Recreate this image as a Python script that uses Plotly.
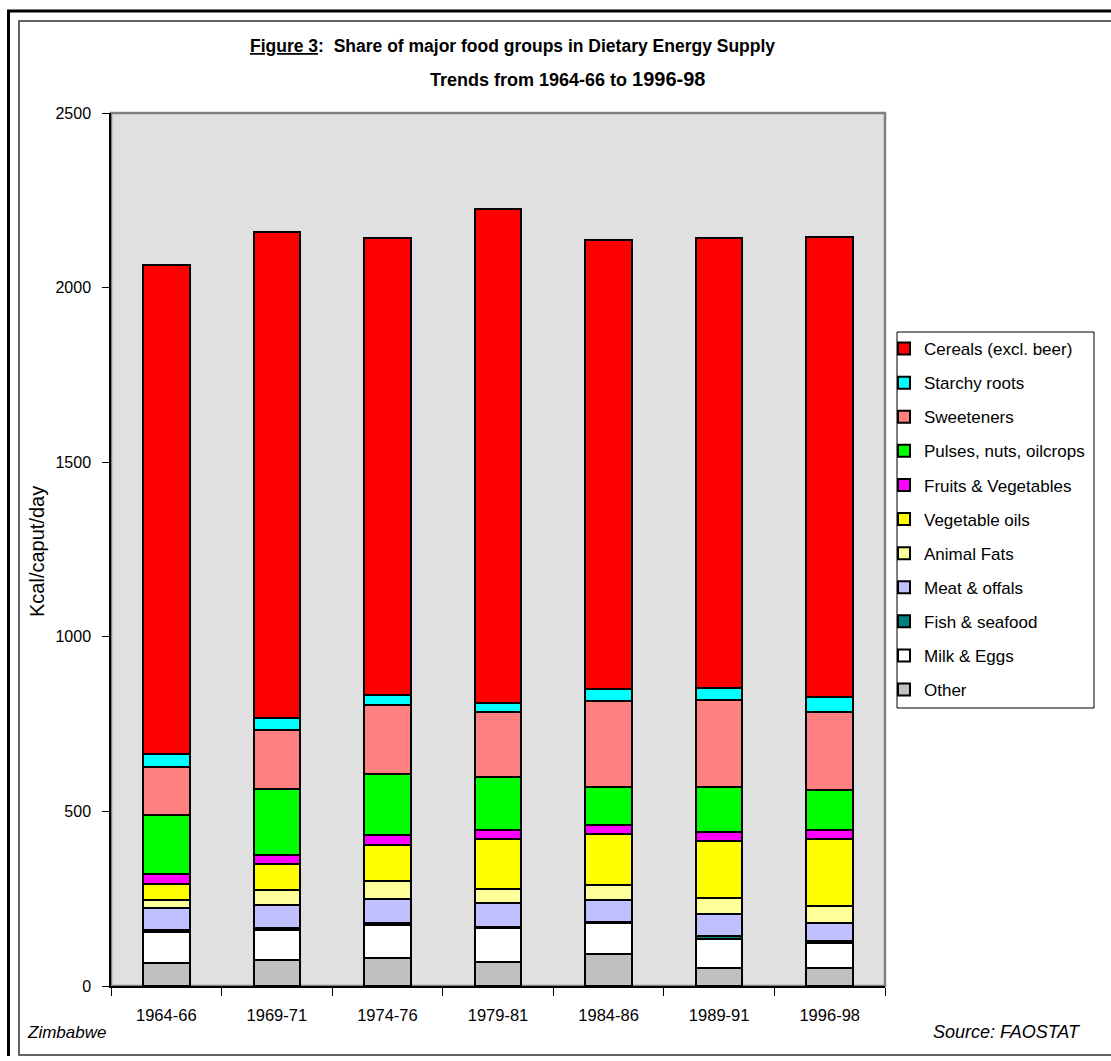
import plotly.graph_objects as go

# Dietary energy supply by food group, Zimbabwe (kcal/caput/day)
categories = ["1964-66", "1969-71", "1974-76", "1979-81", "1984-86", "1989-91", "1996-98"]

other = [67, 74, 79, 69, 91, 52, 52]
milk_eggs = [88, 86, 97, 96, 88, 84, 70]
fish_seafood = [5, 5, 3, 4, 3, 7, 8]
meat_offals = [62, 68, 71, 69, 64, 62, 50]
animal_fats = [24, 41, 50, 41, 43, 48, 50]
vegetable_oils = [45, 74, 105, 141, 145, 162, 191]
fruits_vegetables = [29, 26, 26, 28, 28, 26, 26]
pulses_nuts_oilcrops = [169, 191, 175, 150, 109, 130, 114]
sweeteners = [138, 169, 199, 188, 246, 249, 224]
starchy_roots = [36, 34, 28, 24, 34, 33, 43]
cereals = [1403, 1392, 1310, 1416, 1286, 1290, 1316]

y_ticks = [0, 500, 1000, 1500, 2000, 2500]

# stacked from the bottom up
series = [
    ("Other", other, "#C0C0C0"),
    ("Milk & Eggs", milk_eggs, "#FFFFFF"),
    ("Fish & seafood", fish_seafood, "#008080"),
    ("Meat & offals", meat_offals, "#C0C0FF"),
    ("Animal Fats", animal_fats, "#FFFF99"),
    ("Vegetable oils", vegetable_oils, "#FFFF00"),
    ("Fruits & Vegetables", fruits_vegetables, "#FF00FF"),
    ("Pulses, nuts, oilcrops", pulses_nuts_oilcrops, "#00FF00"),
    ("Sweeteners", sweeteners, "#FF8080"),
    ("Starchy roots", starchy_roots, "#00FFFF"),
    ("Cereals (excl. beer)", cereals, "#FF0000"),
]

W, H = 1111, 1061
PL, PR, PT, PB = 111, 885, 113, 986  # plot area edges in pixels


def px_x(px):
    return (px - PL) / (PR - PL)


def px_y(py):
    return (PB - py) / (PB - PT)


FONT = "Arial, Liberation Sans, sans-serif"

fig = go.Figure()
n = len(series)
for i, (name, vals, color) in enumerate(series):
    fig.add_trace(go.Bar(
        name=name, x=categories, y=vals, legendgroup=name,
        legendrank=n - i,  # top of the stack listed first
        marker=dict(color=color, line=dict(color="black", width=2)),
    ))

fig.update_layout(
    width=W, height=H,
    margin=dict(l=PL, r=W - PR, t=PT, b=H - PB),
    barmode="stack", bargap=0.58,
    paper_bgcolor="white", plot_bgcolor="#E0E0E0",
    font=dict(family=FONT, color="black", size=16),
    showlegend=True,
    legend=dict(
        traceorder="grouped", tracegroupgap=9,
        x=px_x(884), xanchor="left", y=px_y(331), yanchor="top",
        font=dict(size=17, family=FONT), bgcolor="rgba(0,0,0,0)",
        borderwidth=0, itemwidth=30,
    ),
)

fig.update_yaxes(
    range=[0, 2500], tickvals=y_ticks, showgrid=False, zeroline=False,
    ticks="outside", ticklen=7, tickcolor="black", tickwidth=1,
    showline=True, linecolor="black", linewidth=1.5,
    tickfont=dict(size=16), ticklabelstandoff=8,
)
fig.update_xaxes(
    tickson="boundaries", ticks="outside", ticklen=8, tickcolor="black",
    tickwidth=1, showline=True, linecolor="black", linewidth=1.5,
    showgrid=False, tickfont=dict(size=16.5), ticklabelstandoff=13,
)

shapes = [
    # grey plot-area border
    dict(type="rect", xref="x domain", yref="y domain", x0=0, x1=1, y0=0, y1=1,
         line=dict(color="#808080", width=2.5), layer="below"),
    # legend box
    dict(type="rect", xref="paper", yref="paper",
         x0=px_x(897), x1=px_x(1094), y0=px_y(708), y1=px_y(332),
         line=dict(color="black", width=1), layer="above"),
    # inner chart frame
    dict(type="rect", xref="paper", yref="paper",
         x0=px_x(19), x1=px_x(1114), y0=px_y(1055), y1=px_y(21),
         line=dict(color="#303030", width=1.5), layer="above"),
    # outer heavy frame (left and top edges)
    dict(type="line", xref="paper", yref="paper",
         x0=px_x(8.5), x1=px_x(8.5), y0=px_y(1056), y1=px_y(10),
         line=dict(color="black", width=3)),
    dict(type="line", xref="paper", yref="paper",
         x0=px_x(7), x1=px_x(1114), y0=px_y(11), y1=px_y(11),
         line=dict(color="black", width=3)),
]
fig.update_layout(shapes=shapes)

annotations = [
    dict(text="<b><u>Figure 3</u>:\u00a0 Share of major food groups in Dietary Energy Supply</b>",
         x=px_x(512), y=px_y(46), font=dict(size=17.5)),
    dict(text="<b>Trends from 1964-66 to <span style='font-size:20px'>1996-98</span></b>",
         x=px_x(428), y=px_y(79), xanchor="left", font=dict(size=18)),
    dict(text="Kcal/caput/day", textangle=-90, x=px_x(37), y=px_y(552), font=dict(size=20)),
    dict(text="<i>Zimbabwe</i>", x=px_x(25), y=px_y(1032), xanchor="left", font=dict(size=17)),
    dict(text="<i>Source: FAOSTAT</i>", x=px_x(1083), y=px_y(1032), xanchor="right",
         font=dict(size=18)),
]
for a in annotations:
    a.setdefault("xanchor", "center")
    fig.add_annotation(xref="paper", yref="paper", yanchor="middle",
                       showarrow=False, **a)

fig.write_html("out.html")
